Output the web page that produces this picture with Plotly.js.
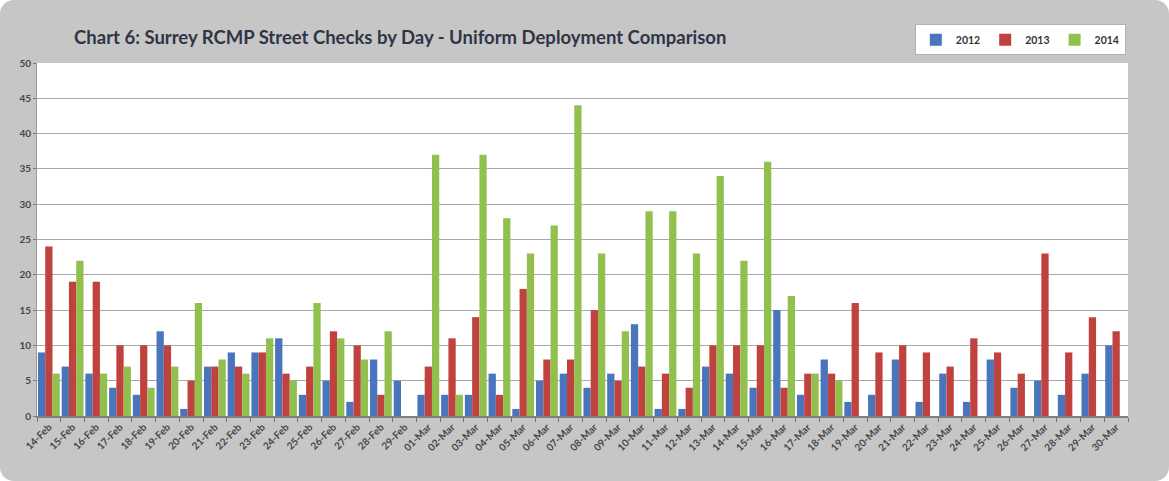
<!DOCTYPE html>
<html>
<head>
<meta charset="utf-8">
<script src="https://cdn.plot.ly/plotly-3.0.1.min.js"></script>
<style>
  html, body { margin: 0; padding: 0; background: #ffffff; }
  #chart { width: 1169px; height: 481px; border-radius: 14px; overflow: hidden; }
</style>
</head>
<body>
<div id="chart"></div>
<script>
const days = ["14-Feb","15-Feb","16-Feb","17-Feb","18-Feb","19-Feb","20-Feb","21-Feb","22-Feb","23-Feb",
  "24-Feb","25-Feb","26-Feb","27-Feb","28-Feb","29-Feb","01-Mar","02-Mar","03-Mar","04-Mar",
  "05-Mar","06-Mar","07-Mar","08-Mar","09-Mar","10-Mar","11-Mar","12-Mar","13-Mar","14-Mar",
  "15-Mar","16-Mar","17-Mar","18-Mar","19-Mar","20-Mar","21-Mar","22-Mar","23-Mar","24-Mar",
  "25-Mar","26-Mar","27-Mar","28-Mar","29-Mar","30-Mar"];

const y2012 = [9,7,6,4,3,12,1,7,9,9, 11,3,5,2,8,5,3,3,3,6, 1,5,6,4,6,13,1,1,7,6, 4,15,3,8,2,3,8,2,6,2, 8,4,5,3,6,10];
const y2013 = [24,19,19,10,10,10,5,7,7,9, 6,7,12,10,3,null,7,11,14,3, 18,8,8,15,5,7,6,4,10,10, 10,4,6,6,16,9,10,9,7,11, 9,6,23,9,14,12];
const y2014 = [6,22,6,7,4,7,16,8,6,11, 5,16,11,8,12,null,37,3,37,28, 23,27,44,23,12,29,29,23,34,22, 36,17,6,5,null,null,null,null,null,null, null,null,null,null,null,null];

const seriesNames = ["2012","2013","2014"];
const seriesColors = ["#4a74bb","#c0423e","#92c04f"];
const seriesData = [y2012, y2013, y2014];

const traces = seriesData.map((d, i) => ({
  type: "bar",
  x: days,
  y: d,
  name: seriesNames[i],
  marker: { color: seriesColors[i], line: { width: 0 } },
  hoverinfo: "x+y+name"
}));

const tickFont = { family: "Lato, 'DejaVu Sans', sans-serif", size: 10, color: "#464646", weight: "bold" };

const layout = {
  width: 1169,
  height: 481,
  paper_bgcolor: "#c6c6c6",
  plot_bgcolor: "#ffffff",
  margin: { l: 37, r: 41, t: 63, b: 65, pad: 0 },
  barmode: "group",
  bargap: 0.08,
  bargroupgap: 0,
  title: {
    text: "Chart 6: Surrey RCMP Street Checks by Day - Uniform Deployment Comparison",
    font: { family: "Lato, 'Open Sans', sans-serif", size: 18.5, color: "#2f3546", weight: "bold" },
    xref: "paper", x: 0.034, xanchor: "left",
    yref: "container", y: 0.923, yanchor: "middle"
  },
  xaxis: {
    type: "category",
    tickson: "boundaries",
    ticks: "outside",
    ticklen: 4,
    tickcolor: "#777777",
    tickangle: -45,
    tickfont: tickFont,
    showgrid: false,
    showline: true,
    linecolor: "#808080",
    linewidth: 1.5,
    automargin: false
  },
  yaxis: {
    range: [0, 50],
    dtick: 5,
    tick0: 0,
    ticks: "outside",
    ticklen: 3,
    tickcolor: "#777777",
    tickfont: tickFont,
    showgrid: true,
    gridcolor: "#a8a8a8",
    gridwidth: 1,
    showline: true,
    linecolor: "#9a9a9a",
    linewidth: 1,
    zeroline: false,
    automargin: false
  },
  legend: {
    orientation: "h",
    x: 0.998, xanchor: "right",
    y: 1.11, yanchor: "top",
    bgcolor: "#ffffff",
    bordercolor: "#b0b0b0",
    borderwidth: 1,
    font: { family: "Lato, 'DejaVu Sans', sans-serif", size: 10.5, color: "#333333", weight: "bold" },
    itemwidth: 30,
    traceorder: "normal"
  },
  showlegend: true
};

Plotly.newPlot("chart", traces, layout, { displayModeBar: false, staticPlot: true });
</script>
</body>
</html>
